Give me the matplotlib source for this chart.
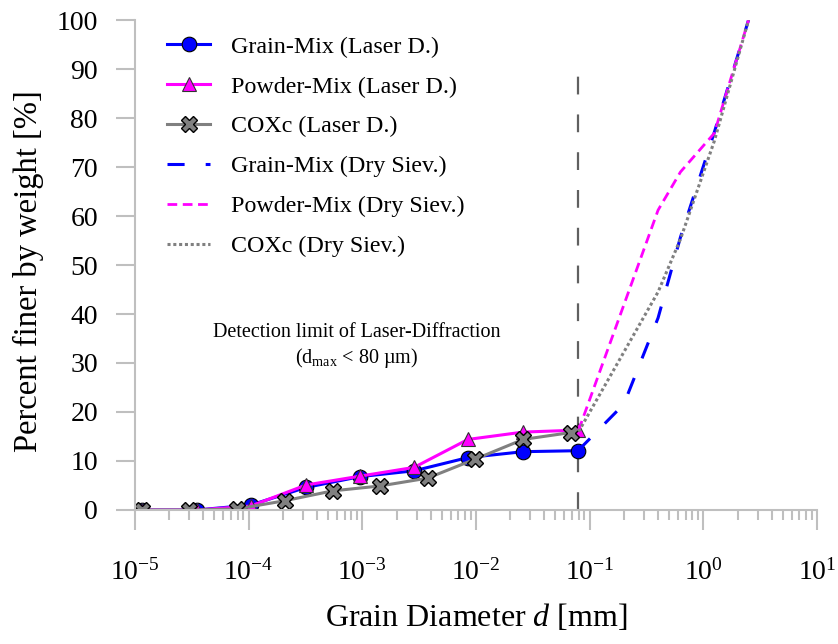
import matplotlib
matplotlib.use("Agg")
import matplotlib.pyplot as plt

plt.rcParams['font.family'] = ['Liberation Serif', 'DejaVu Serif']
plt.rcParams['mathtext.fontset'] = 'custom'
plt.rcParams['mathtext.rm'] = 'Liberation Serif'
plt.rcParams['mathtext.it'] = 'Liberation Serif:italic'

# Laser diffraction (mm, % finer)
laser_d = [1.15e-5, 3.5e-5, 1.04e-4, 3.2e-4, 9.5e-4, 2.86e-3, 8.5e-3, 2.6e-2, 7.9e-2]
grain_laser = [0, 0, 1.0, 4.6, 6.8, 8.0, 10.7, 11.9, 12.1]
powder_laser = [0, 0, 0.8, 5.1, 6.9, 8.7, 14.4, 15.9, 16.3]
cox_laser_d = [1.15e-5, 3.0e-5, 7.85e-5, 2.09e-4, 5.48e-4, 1.43e-3, 3.75e-3, 9.9e-3, 2.6e-2, 6.8e-2]
cox_laser = [0, 0, 0.2, 1.9, 3.9, 4.9, 6.5, 10.4, 14.4, 15.8]

# Dry sieving
grain_sieve_d = [0.079, 0.2, 0.4, 0.63, 1.25, 2.5]
grain_sieve = [12.1, 21.6, 39.2, 55.7, 77.1, 100]
powder_sieve_d = [0.08, 0.4, 0.63, 1.25, 2.5]
powder_sieve = [16.3, 61.2, 69.0, 76.9, 100]
cox_sieve_d = [0.08, 0.4, 0.63, 1.25, 2.5]
cox_sieve = [16.0, 44.5, 55.3, 75.3, 100]

d_limit = 0.079  # 80 um

fig = plt.figure(figsize=(8.38, 6.44), dpi=100)
ax = fig.add_axes([0.1611, 0.2081, 0.9749 - 0.1611, 0.9689 - 0.2081])

ax.plot(laser_d, grain_laser, '-', color='#0000FF', lw=2.2, marker='o', ms=10.5,
        mfc='#0000FF', mec='black', mew=0.8, label='Grain-Mix (Laser D.)')
ax.plot(laser_d, powder_laser, '-', color='#FF00FF', lw=2.2, marker='^', ms=10.5,
        mfc='#FF00FF', mec='#333333', mew=0.8, label='Powder-Mix (Laser D.)')
ax.plot(cox_laser_d, cox_laser, '-', color='#808080', lw=2.2, marker='X', ms=11,
        mfc='#808080', mec='black', mew=1.0, label='COXc (Laser D.)')

ax.plot(grain_sieve_d, grain_sieve, color='#0000FF', lw=2.2, dashes=(5.6, 6.9),
        label='Grain-Mix (Dry Siev.)')
ax.plot(powder_sieve_d, powder_sieve, color='#FF00FF', lw=2.0, dashes=(3.5, 2.0),
        label='Powder-Mix (Dry Siev.)')
ax.plot(cox_sieve_d, cox_sieve, color='#808080', lw=2.2, dashes=(1.0, 0.9),
        label='COXc (Dry Siev.)')

ax.plot([d_limit, d_limit], [0, 89], color='#606060', lw=1.6, dashes=(8, 9), zorder=1)

ax.text(9.0e-4, 36.3, 'Detection limit of Laser-Diffraction', ha='center', va='center',
        fontsize=14.5)
ax.text(9.0e-4, 31.0, r'(d$_{\mathrm{max}}$ < 80 µm)', ha='center', va='center',
        fontsize=14.5)

ax.set_xscale('log')
ax.set_xlim(1e-5, 1e1)
ax.set_ylim(0, 100)
ax.set_yticks(range(0, 101, 10))
ax.set_xticks([1e-5, 1e-4, 1e-3, 1e-2, 1e-1, 1e0, 1e1])
ax.set_xticklabels([r'$10^{-5}$', r'$10^{-4}$', r'$10^{-3}$', r'$10^{-2}$',
                    r'$10^{-1}$', r'$10^{0}$', r'$10^{1}$'])

for s in ['top', 'right']:
    ax.spines[s].set_visible(False)
for s in ['left', 'bottom']:
    ax.spines[s].set_color('#BFBFBF')
    ax.spines[s].set_linewidth(1.5)

ax.tick_params(axis='y', which='major', direction='out', length=13.7, width=1.5,
               color='#BFBFBF', labelsize=20, pad=13)
ax.tick_params(axis='x', which='major', direction='out', length=14.4, width=1.5,
               color='#BFBFBF', labelsize=20, pad=21)
ax.tick_params(axis='x', which='minor', direction='out', length=7.2, width=1.5,
               color='#BFBFBF')

ax.set_xlabel(r'Grain Diameter $d$ [mm]', fontsize=23, labelpad=12)
ax.set_ylabel('Percent finer by weight [%]', fontsize=23.5, labelpad=9, y=0.487)

ax.legend(loc='upper left', bbox_to_anchor=(167 / 838, 1 - 36 / 644),
          bbox_transform=fig.transFigure, frameon=False, fontsize=17.3,
          handlelength=1.8, handletextpad=0.85, labelspacing=0.75, borderpad=0,
          borderaxespad=0)

fig.savefig('out.png', dpi=100)
